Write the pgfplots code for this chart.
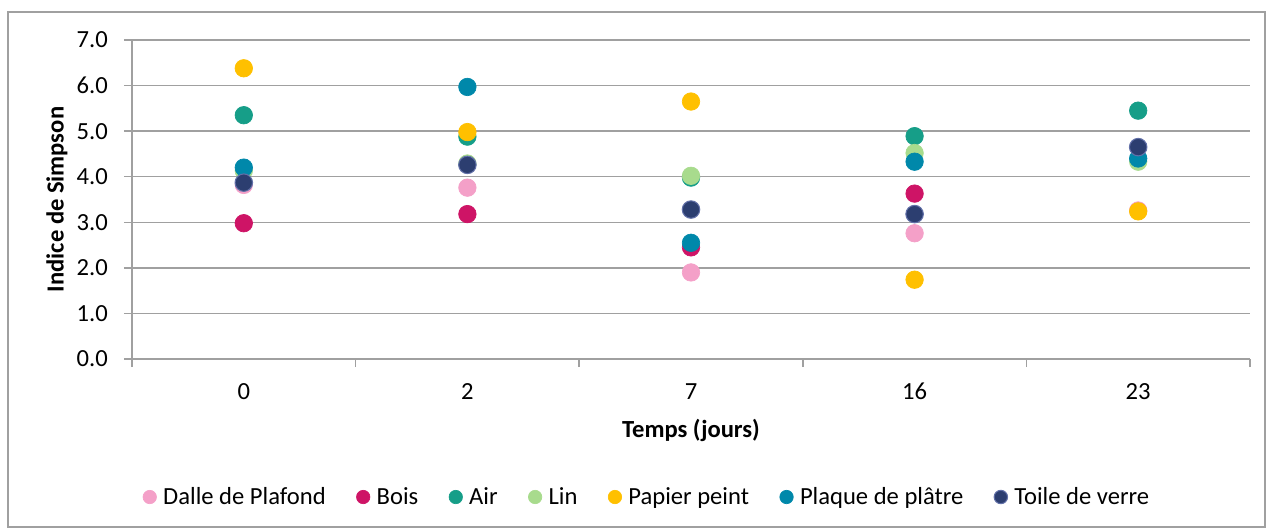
\documentclass[border=0pt]{standalone}
\usepackage{pgfplots}
\pgfplotsset{compat=1.18}
\usepackage{fontspec}
\setmainfont{Carlito}

\definecolor{dalle}{HTML}{F4A0C8}
\definecolor{bois}{HTML}{CE1466}
\definecolor{air}{HTML}{169E88}
\definecolor{lin}{HTML}{A8DB8D}
\definecolor{papier}{HTML}{FFC000}
\definecolor{plaque}{HTML}{0088AA}
\definecolor{toile}{HTML}{2C3E70}
\definecolor{toileedge}{HTML}{6270A8}
\definecolor{gridgray}{HTML}{A0A0A0}

\begin{document}
\begin{tikzpicture}[x=1cm,y=1cm]
\useasboundingbox (0,0) rectangle (25.36,-10.58);
\draw[gridgray, line width=0.8pt] (0.16,-0.24) rectangle (25.30,-10.54);
\begin{axis}[
    at={(2.64cm,-7.18cm)}, anchor=south west,
    scale only axis,
    width=22.36cm, height=6.38cm,
    font=\fontsize{14}{16}\selectfont,
    /pgf/number format/assume math mode=true,
    xmin=-0.5, xmax=4.5,
    ymin=0, ymax=7,
    xtick={0,1,2,3,4},
    xticklabels={0,2,7,16,23},
    minor xtick={-0.5,0.5,1.5,2.5,3.5,4.5},
    ytick={0,1,...,7},
    yticklabel style={xshift=-0.2cm, /pgf/number format/fixed, /pgf/number format/fixed zerofill, /pgf/number format/precision=1},
    axis lines*=left,
    axis line style={gridgray, line width=0.8pt},
    tick align=outside,
    tick style={gridgray, line width=0.8pt},
    major tick length=0.16cm,
    minor tick length=0.16cm,
    major x tick style={draw=none},
    ymajorgrids,
    grid style={gridgray, line width=0.8pt},
    xticklabel style={yshift=-0.2cm},
    xlabel={\textbf{Temps (jours)}},
    ylabel={\textbf{Indice de Simpson}},
    xlabel style={at={(axis description cs:0.5,-0.2226)}, anchor=center},
    ylabel style={at={(axis description cs:-0.0671,0.5)}, anchor=center},
    clip=false,
    legend columns=7,
    legend style={
        at={(axis description cs:0.4606,-0.4326)}, anchor=center,
        draw=none, fill=none,
        font=\fontsize{14}{16}\selectfont,
        nodes={inner sep=1pt},
        /tikz/every even column/.append style={column sep=0.58cm},
        /tikz/every odd column/.append style={column sep=0.1cm},
    },
    legend image code/.code={\draw[#1, mark size=0.134cm] plot coordinates {(0cm,0cm)};},
]
\addplot[only marks, mark=*, mark size=0.175cm, color=dalle] coordinates {
    (0,3.82) (1,3.76) (2,1.90) (3,2.76) (4,3.26)
};
\addlegendentry{Dalle de Plafond}
\addplot[only marks, mark=*, mark size=0.175cm, color=bois] coordinates {
    (0,2.98) (1,3.18) (2,2.45) (3,3.63)
};
\addlegendentry{Bois}
\addplot[only marks, mark=*, mark size=0.175cm, color=air] coordinates {
    (0,5.35) (1,4.88) (2,3.98) (3,4.89) (4,5.45)
};
\addlegendentry{Air}
\addplot[only marks, mark=*, mark size=0.175cm, color=lin] coordinates {
    (0,4.13) (1,4.29) (2,4.02) (3,4.52) (4,4.33)
};
\addlegendentry{Lin}
\addplot[only marks, mark=*, mark size=0.175cm, color=papier] coordinates {
    (0,6.38) (1,4.98) (2,5.65) (3,1.74) (4,3.24)
};
\addlegendentry{Papier peint}
\addplot[only marks, mark=*, mark size=0.175cm, color=plaque] coordinates {
    (0,4.20) (1,5.97) (2,2.55) (3,4.33) (4,4.40)
};
\addlegendentry{Plaque de plâtre}
\addplot[only marks, mark=*, mark size=0.175cm, color=toile, mark options={fill=toile, draw=toileedge, line width=0.6pt}] coordinates {
    (0,3.87) (1,4.26) (2,3.28) (3,3.18) (4,4.65)
};
\addlegendentry{Toile de verre}
\end{axis}
\end{tikzpicture}
\end{document}
